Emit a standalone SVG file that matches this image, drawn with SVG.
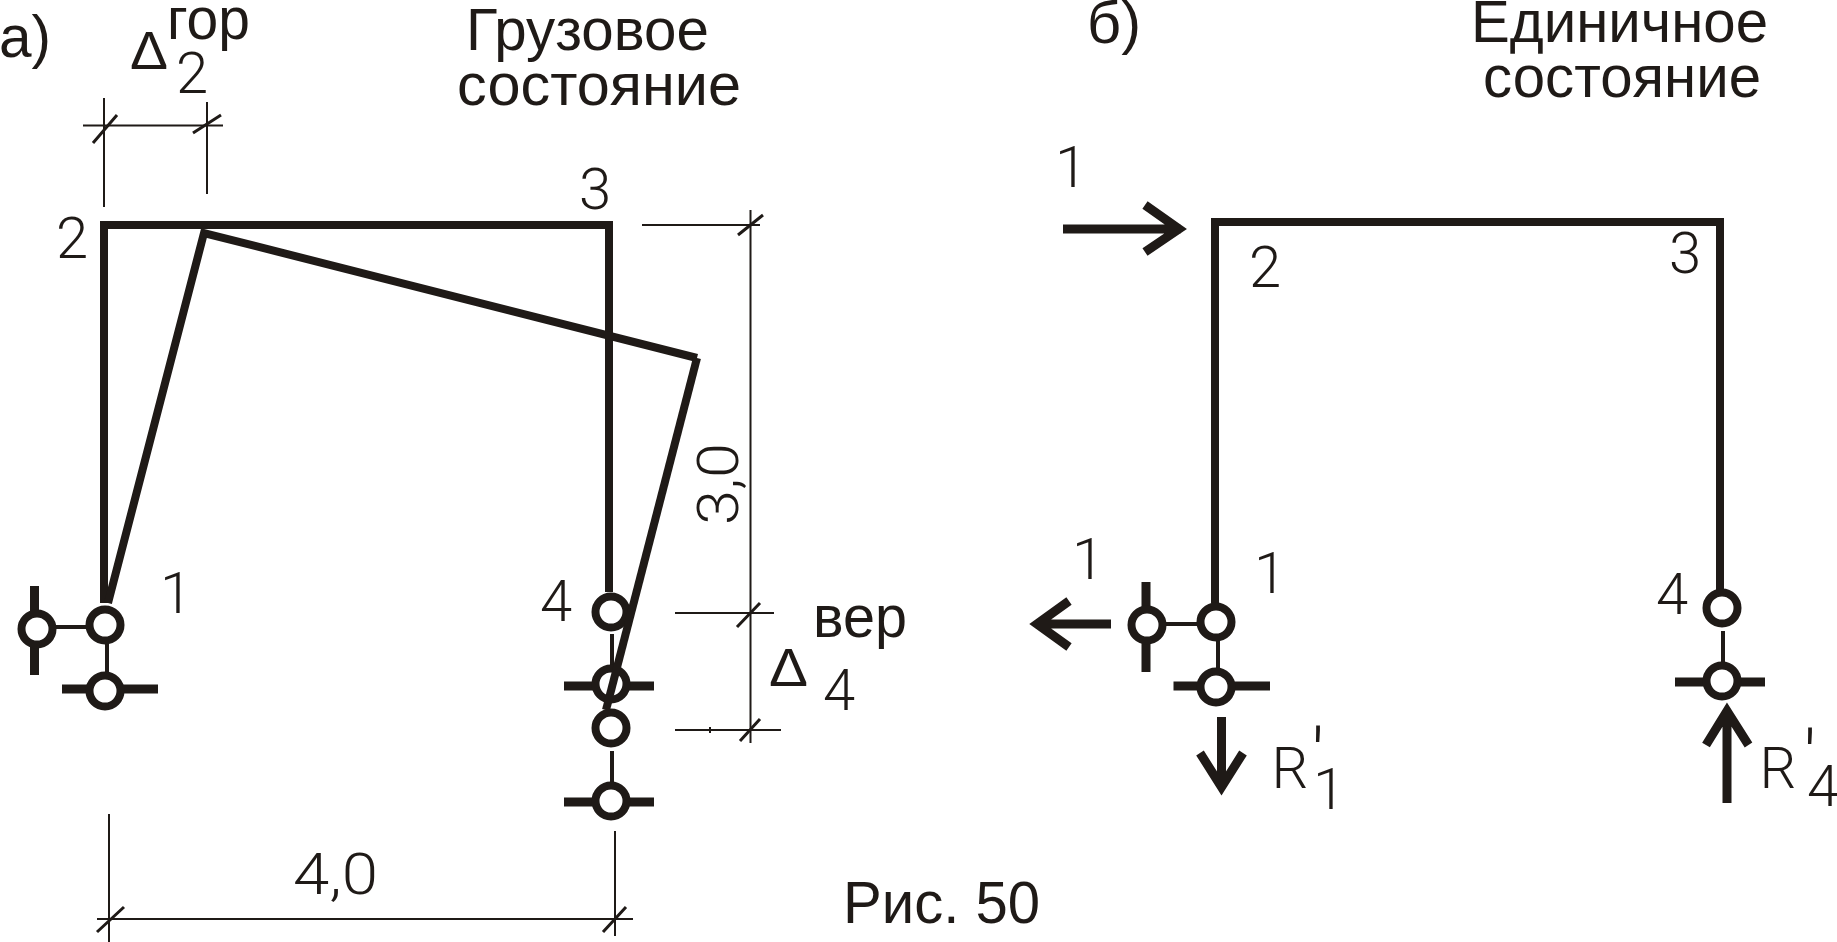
<svg xmlns="http://www.w3.org/2000/svg" width="1837" height="942" viewBox="0 0 1837 942">
<style>
text{fill:#1f1a17;font-family:"Liberation Sans",Arial,sans-serif;font-size:60px}
.d{font-family:Roboto,"Liberation Sans",sans-serif;font-weight:300;font-size:58px;text-anchor:middle}
.p{font-family:Roboto,"Liberation Sans",sans-serif;font-weight:300;font-size:76px;text-anchor:middle}
.h{stroke:#1f1a17;fill:none;stroke-linecap:butt}
.f{stroke-width:8}
.t{stroke-width:8}
.l{stroke-width:4}
.dim{stroke-width:2}
.tick{stroke-width:3}
.b{stroke-width:9}
.a{stroke-width:9}
circle{fill:#fff;stroke:#1f1a17;stroke-width:8}
</style>
<rect width="1837" height="942" fill="#fff"/>
<g id="frame-a"><path class="h f" d="M100 225H610M104 221V603M609 221V592"/></g>
<g id="deformed-a"><path class="h t" d="M108 603L204 233L697 358"/></g>
<g id="support-a1">
<path class="h l" d="M37 627H105M107 625V691"/>
<path class="h b" d="M34.500 586V675M62 689H158"/>
<circle cx="37" cy="629" r="15.500"/><circle cx="105" cy="625" r="15.500"/><circle cx="105" cy="691" r="15.500"/>
</g>
<g id="support-a4">
<path class="h l" d="M612 634V667M612 751V782"/>
<path class="h b" d="M564 686H654M564 802H654"/>
<circle cx="611" cy="612" r="15.500"/><circle cx="611" cy="684" r="15.500"/><circle cx="611" cy="728" r="15.500"/><circle cx="611" cy="801" r="15.500"/>
</g>
<g id="deformed-a-leg"><path class="h t" d="M697 358L606 710"/></g>
<g id="frame-b"><path class="h f" d="M1211 222H1720M1215 218V603M1720 218V590"/></g>
<g id="support-b1">
<path class="h l" d="M1147 624H1216M1218 622V687"/>
<path class="h b" d="M1146 582V672M1173.500 686H1270"/>
<circle cx="1147" cy="625" r="15.500"/><circle cx="1216" cy="622" r="15.500"/><circle cx="1216" cy="687" r="15.500"/>
</g>
<g id="support-b4">
<path class="h l" d="M1723 631V662"/>
<path class="h b" d="M1675 682H1765"/>
<circle cx="1722" cy="608" r="15.500"/><circle cx="1722" cy="681" r="15.500"/>
</g>
<g id="connectors">
<path class="h dim" d="M83 125.500H223M104 98V207M207 102V194M642 225H760M750.500 210V743M675 613H774M675 730H781M710 727V733M97 919H633M109 814V942M615 831V936"/>
<path class="h tick" d="M93 143L117 115M193 133L221 115M738 235L763 215M737 627L760 603M740 741L760 719M97 932L124 907M603 932L626 907"/>
<path class="h a" d="M1063 229H1181M1145 205L1179 229L1145 252M1111 624H1037M1069 601L1037 624L1069 647M1221.500 717V787M1200 753L1221.500 787L1243 753M1727 803V711M1706 745L1727 711L1748.500 745"/>
</g>
<g id="labels">
<text x="-1" y="57" textLength="52" lengthAdjust="spacingAndGlyphs">а)</text>
<text x="130" y="69" style="font-size:53px" textLength="38" lengthAdjust="spacingAndGlyphs">Δ</text>
<text x="167" y="39" textLength="83" lengthAdjust="spacingAndGlyphs">гор</text>
<text class="d" x="192" y="93">2</text>
<text x="466" y="50" textLength="243" lengthAdjust="spacingAndGlyphs">Грузовое</text>
<text x="457" y="105" textLength="284" lengthAdjust="spacingAndGlyphs">состояние</text>
<text class="d" x="595" y="209">3</text>
<text class="d" x="72" y="258">2</text>
<text class="d" x="176" y="613">1</text>
<text class="d" x="556" y="621">4</text>
<text class="d" transform="translate(738 525) rotate(-90)" style="text-anchor:start" textLength="82" lengthAdjust="spacingAndGlyphs">3,0</text>
<text x="813" y="637" textLength="94" lengthAdjust="spacingAndGlyphs">вер</text>
<text x="769" y="686" style="font-size:53px" textLength="39" lengthAdjust="spacingAndGlyphs">Δ</text>
<text class="d" x="839" y="710">4</text>
<text class="d" x="335.500" y="894" textLength="85" lengthAdjust="spacingAndGlyphs">4,0</text>
<text x="843" y="923" textLength="197" lengthAdjust="spacingAndGlyphs">Рис. 50</text>
<text x="1087" y="43" textLength="54" lengthAdjust="spacingAndGlyphs">б)</text>
<text x="1471" y="42" textLength="297" lengthAdjust="spacingAndGlyphs">Единичное</text>
<text x="1483" y="97" textLength="278" lengthAdjust="spacingAndGlyphs">состояние</text>
<text class="d" x="1071" y="187">1</text>
<text class="d" x="1265" y="287">2</text>
<text class="d" x="1685" y="273">3</text>
<text class="d" x="1088" y="579">1</text>
<text class="d" x="1270" y="593">1</text>
<text class="d" x="1672" y="614">4</text>
<text class="d" x="1290" y="788">R</text>
<text class="p" x="1318" y="783">'</text>
<text class="d" x="1329" y="809">1</text>
<text class="d" x="1778" y="788">R</text>
<text class="p" x="1810" y="785">'</text>
<text class="d" x="1823" y="806">4</text>
</g>
</svg>
